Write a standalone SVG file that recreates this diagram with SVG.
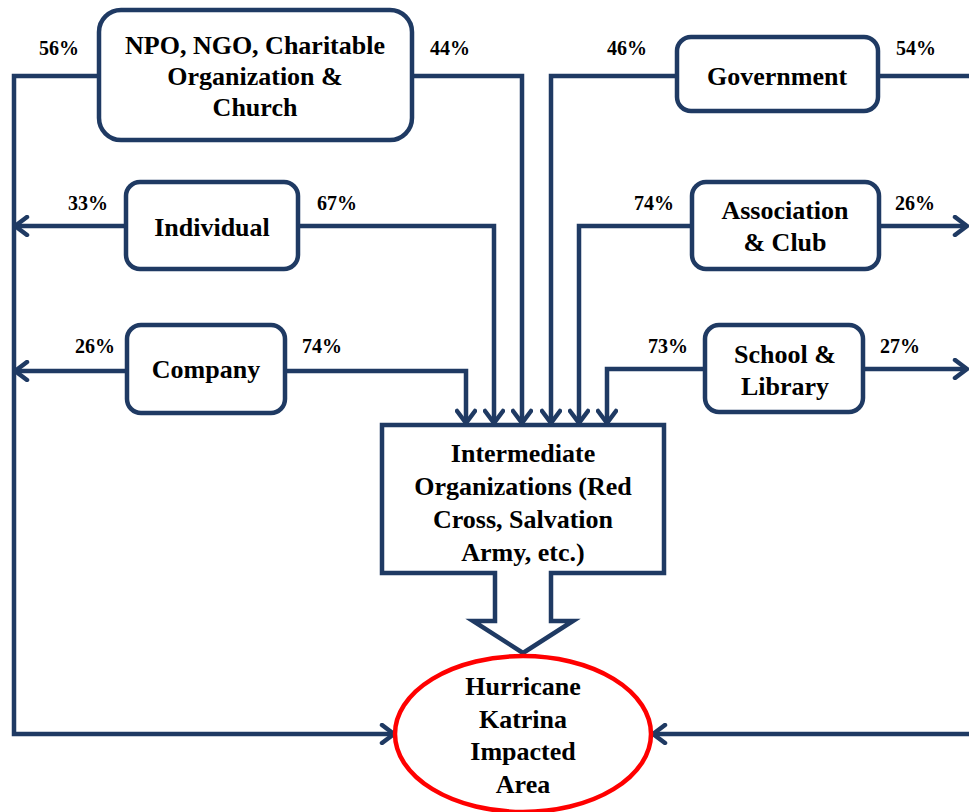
<svg xmlns="http://www.w3.org/2000/svg" width="969" height="812" viewBox="0 0 969 812">
<style>
.box{fill:#fff;stroke:#1f3a63;stroke-width:4.5}
.conn{fill:none;stroke:#1f3a63;stroke-width:4.5;stroke-linejoin:miter}
.t{font-family:"Liberation Serif","Times New Roman",serif;font-weight:bold;font-size:26px;fill:#000;text-anchor:middle}
.p{font-family:"Liberation Serif","Times New Roman",serif;font-weight:bold;font-size:20px;fill:#000;text-anchor:middle}
</style>
<defs>
<marker id="ah" markerUnits="userSpaceOnUse" markerWidth="18" markerHeight="22" viewBox="0 0 18 22" refX="16" refY="11" orient="auto">
<path d="M4,2 L16,11 L4,20" fill="none" stroke="#1f3a63" stroke-width="4.5" stroke-linecap="round" stroke-linejoin="miter"/>
</marker>
</defs>
<rect width="969" height="812" fill="#fff"/>
<g id="connectors">
<path class="conn" d="M99,76 H14 V734 H394" marker-end="url(#ah)"/>
<path class="conn" d="M412,76 H522 V423" marker-end="url(#ah)"/>
<path class="conn" d="M677,76 H551 V423" marker-end="url(#ah)"/>
<path class="conn" d="M878,76 H980 V734 H653" marker-end="url(#ah)"/>
<path class="conn" d="M126,226 H15" marker-end="url(#ah)"/>
<path class="conn" d="M298,226 H494 V423" marker-end="url(#ah)"/>
<path class="conn" d="M127,371 H15" marker-end="url(#ah)"/>
<path class="conn" d="M285,371 H466 V423" marker-end="url(#ah)"/>
<path class="conn" d="M692,226 H579 V423" marker-end="url(#ah)"/>
<path class="conn" d="M879,226 H967" marker-end="url(#ah)"/>
<path class="conn" d="M705,369 H607 V423" marker-end="url(#ah)"/>
<path class="conn" d="M863,369 H967" marker-end="url(#ah)"/>
</g>
<g id="labels">
<text class="p" x="59" y="55">56%</text>
<text class="p" x="450" y="55">44%</text>
<text class="p" x="627" y="55">46%</text>
<text class="p" x="916" y="55">54%</text>
<text class="p" x="88" y="210">33%</text>
<text class="p" x="337" y="210">67%</text>
<text class="p" x="654" y="210">74%</text>
<text class="p" x="915" y="210">26%</text>
<text class="p" x="95" y="353">26%</text>
<text class="p" x="322" y="353">74%</text>
<text class="p" x="668" y="353">73%</text>
<text class="p" x="900" y="353">27%</text>
</g>
<g id="npo">
<rect class="box" x="99" y="10" width="313" height="130" rx="22"/>
<text class="t" x="255" y="54">NPO, NGO, Charitable</text>
<text class="t" x="255" y="85">Organization &amp;</text>
<text class="t" x="255" y="116">Church</text>
</g>
<g id="government">
<rect class="box" x="677" y="37" width="201" height="74" rx="14"/>
<text class="t" x="777" y="85">Government</text>
</g>
<g id="individual">
<rect class="box" x="126" y="182" width="172" height="87" rx="14"/>
<text class="t" x="212" y="236">Individual</text>
</g>
<g id="company">
<rect class="box" x="127" y="325" width="158" height="88" rx="14"/>
<text class="t" x="206" y="378">Company</text>
</g>
<g id="association">
<rect class="box" x="692" y="182" width="187" height="87" rx="14"/>
<text class="t" x="785" y="219">Association</text>
<text class="t" x="785" y="251">&amp; Club</text>
</g>
<g id="school">
<rect class="box" x="705" y="325" width="158" height="87" rx="14"/>
<text class="t" x="785" y="363">School &amp;</text>
<text class="t" x="785" y="395">Library</text>
</g>
<g id="intermediate">
<path class="box" d="M382,425 H664 V573 H551 V621 H573 L523,653 L473,621 H495 V573 H382 Z"/>
<text class="t" x="523" y="462">Intermediate</text>
<text class="t" x="523" y="495">Organizations (Red</text>
<text class="t" x="523" y="528">Cross, Salvation</text>
<text class="t" x="523" y="561">Army, etc.)</text>
</g>
<g id="impacted">
<ellipse cx="523" cy="734" rx="128" ry="78" fill="#fff" stroke="#ff0000" stroke-width="4.5"/>
<text class="t" x="523" y="695">Hurricane</text>
<text class="t" x="523" y="728">Katrina</text>
<text class="t" x="523" y="760">Impacted</text>
<text class="t" x="523" y="793">Area</text>
</g>
</svg>
